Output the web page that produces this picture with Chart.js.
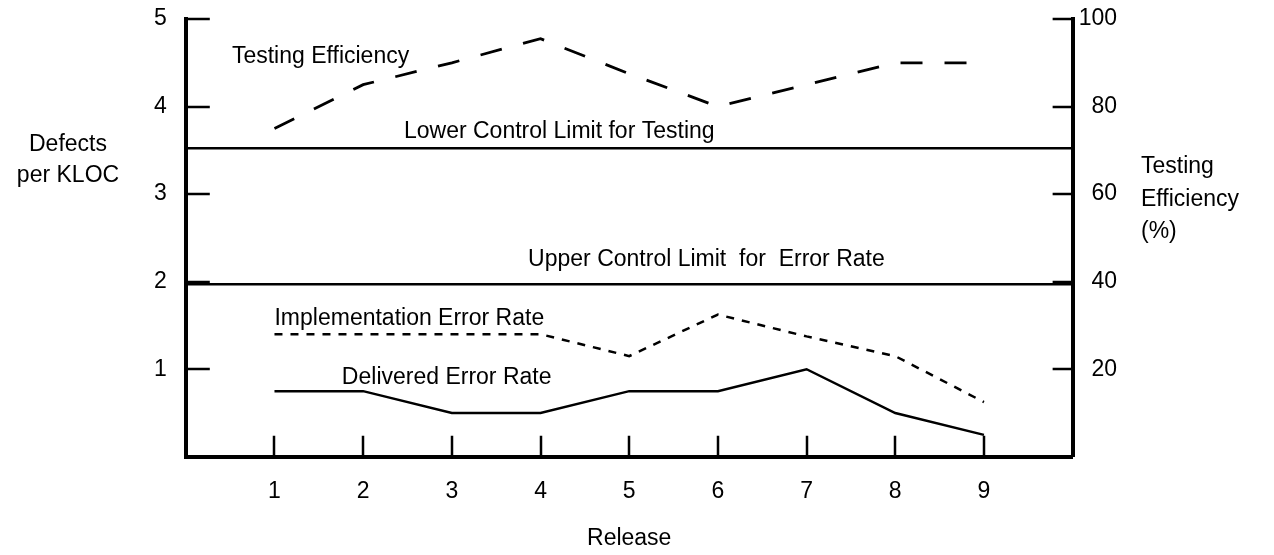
<!DOCTYPE html>
<html>
<head>
<meta charset="utf-8">
<script src="https://cdn.jsdelivr.net/npm/chart.js@4.4.1/dist/chart.umd.min.js"></script>
<style>
  html, body { margin: 0; padding: 0; background: #fff; }
  #wrap { width: 1274px; height: 555px; position: relative; }
</style>
</head>
<body>
<div id="wrap"><canvas id="releaseChart"></canvas></div>
<script>
// releases on the x axis
const releases = [1, 2, 3, 4, 5, 6, 7, 8, 9];

// defects per KLOC (left axis)
const deliveredErrorRate = [0.75, 0.75, 0.5, 0.5, 0.75, 0.75, 1.0, 0.5, 0.25];
const implementationErrorRate = [1.4, 1.4, 1.4, 1.4, 1.15, 1.625, 1.375, 1.15, 0.625];
const upperControlLimitError = 1.97;

// testing efficiency % (right axis)
const testingEfficiency = [75, 85, 90, 95.5, 87.5, 80, 85, 90, 90];
const lowerControlLimitTesting = 70.5;

// axis ranges and tick labels
const releaseRange = [0, 10];
const defectTicks = [1, 2, 3, 4, 5];
const efficiencyTicks = [20, 40, 60, 80, 100];

const FONT = "'Liberation Sans', Arial, Helvetica, sans-serif";
const FONT_SIZE = 23;

// text written next to each curve, in release / defects-per-KLOC units
const curveLabels = [
  { text: "Testing Efficiency", x: 0.52, y: 4.5 },
  { text: "Lower Control Limit for Testing", x: 2.46, y: 3.64 },
  { text: "Upper Control Limit  for  Error Rate", x: 3.86, y: 2.18 },
  { text: "Implementation Error Rate", x: 1.0, y: 1.51 },
  { text: "Delivered Error Rate", x: 1.76, y: 0.83 }
];

function points(values) {
  return releases.map((r, i) => ({ x: r, y: values[i] }));
}

function flatLine(value) {
  return releaseRange.map(r => ({ x: r, y: value }));
}

// the top tick labels may hang above the plot, so no extra room for them
function noVerticalOverhang(scale) {
  scale.paddingTop = 0;
}

// inward tick marks, curve labels and the side titles
const decorPlugin = {
  id: "decor",
  afterDatasetsDraw(chart) {
    const { ctx } = chart;
    const { x, y, y1 } = chart.scales;
    ctx.save();
    ctx.strokeStyle = "#000";
    ctx.lineWidth = 2.5;
    ctx.beginPath();
    defectTicks.forEach(v => {
      const py = Math.round(y.getPixelForValue(v));
      ctx.moveTo(x.left, py);
      ctx.lineTo(x.left + 24, py);
    });
    efficiencyTicks.forEach(v => {
      const py = Math.round(y1.getPixelForValue(v));
      ctx.moveTo(x.right, py);
      ctx.lineTo(x.right - 20, py);
    });
    releases.forEach(v => {
      const px = Math.round(x.getPixelForValue(v));
      ctx.moveTo(px, y.bottom);
      ctx.lineTo(px, y.bottom - 21);
    });
    ctx.stroke();

    ctx.fillStyle = "#000";
    ctx.font = FONT_SIZE + "px " + FONT;
    ctx.textBaseline = "alphabetic";
    ctx.textAlign = "left";
    curveLabels.forEach(l => {
      ctx.fillText(l.text, x.getPixelForValue(l.x), y.getPixelForValue(l.y));
    });

    // left title
    ctx.textAlign = "center";
    const leftMid = y.getPixelForValue(3.5);
    ctx.fillText("Defects", y.left - 67, leftMid + 1);
    ctx.fillText("per KLOC", y.left - 67, leftMid + 32);

    // right title
    ctx.textAlign = "left";
    const rightMid = y.getPixelForValue(3);
    ctx.fillText("Testing", y1.right + 24, rightMid - 21);
    ctx.fillText("Efficiency", y1.right + 24, rightMid + 12);
    ctx.fillText("(%)", y1.right + 24, rightMid + 44);
    ctx.restore();
  }
};

const tickFont = { family: FONT, size: FONT_SIZE };

new Chart(document.getElementById("releaseChart"), {
  type: "line",
  data: {
    datasets: [
      {
        label: "Testing Efficiency",
        data: points(testingEfficiency),
        yAxisID: "y1",
        borderColor: "#000",
        borderWidth: 2.8,
        borderDash: [22, 22],
        pointRadius: 0,
        tension: 0
      },
      {
        label: "Lower Control Limit for Testing",
        data: flatLine(lowerControlLimitTesting),
        yAxisID: "y1",
        borderColor: "#000",
        borderWidth: 2.5,
        pointRadius: 0
      },
      {
        label: "Upper Control Limit for Error Rate",
        data: flatLine(upperControlLimitError),
        yAxisID: "y",
        borderColor: "#000",
        borderWidth: 2.5,
        pointRadius: 0
      },
      {
        label: "Implementation Error Rate",
        data: points(implementationErrorRate),
        yAxisID: "y",
        borderColor: "#000",
        borderWidth: 2.5,
        borderDash: [8, 8],
        pointRadius: 0,
        tension: 0
      },
      {
        label: "Delivered Error Rate",
        data: points(deliveredErrorRate),
        yAxisID: "y",
        borderColor: "#000",
        borderWidth: 2.5,
        pointRadius: 0,
        tension: 0
      }
    ]
  },
  options: {
    responsive: true,
    maintainAspectRatio: false,
    animation: false,
    layout: { padding: { left: 135, right: 157, top: 19, bottom: 3 } },
    plugins: {
      legend: { display: false },
      tooltip: { enabled: false }
    },
    scales: {
      x: {
        type: "linear",
        min: releaseRange[0],
        max: releaseRange[1],
        afterBuildTicks: scale => {
          scale.ticks = releases.map(v => ({ value: v }));
        },
        ticks: {
          color: "#000",
          font: tickFont,
          padding: 21,
          maxRotation: 0,
          autoSkip: false
        },
        grid: { display: false, drawTicks: false },
        border: { display: true, color: "#000", width: 4 },
        title: {
          display: true,
          text: "Release",
          color: "#000",
          font: tickFont,
          padding: { top: -2, bottom: 0 }
        }
      },
      y: {
        position: "left",
        min: 0,
        max: 5,
        afterBuildTicks: scale => {
          scale.ticks = defectTicks.map(v => ({ value: v }));
        },
        afterFit: noVerticalOverhang,
        ticks: { color: "#000", font: tickFont, padding: 19 },
        grid: { display: false, drawTicks: false },
        border: { display: true, color: "#000", width: 4 }
      },
      y1: {
        position: "right",
        min: 0,
        max: 100,
        afterBuildTicks: scale => {
          scale.ticks = efficiencyTicks.map(v => ({ value: v }));
        },
        afterFit: noVerticalOverhang,
        ticks: { color: "#000", font: tickFont, padding: 3, crossAlign: "far" },
        grid: { display: false, drawTicks: false },
        border: { display: true, color: "#000", width: 4 }
      }
    }
  },
  plugins: [decorPlugin]
});
</script>
</body>
</html>
